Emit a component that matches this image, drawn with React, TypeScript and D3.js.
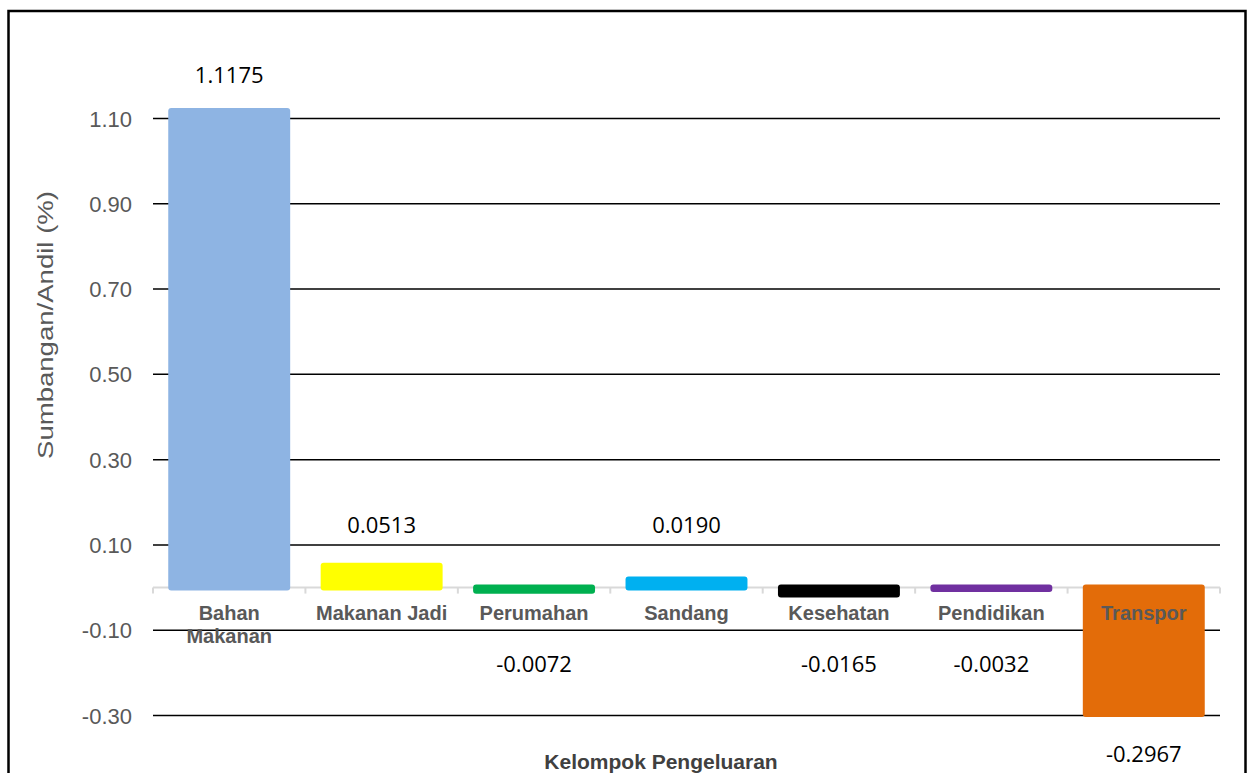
import React from "react";
import * as d3 from "d3";

const categories = ["Bahan Makanan", "Makanan Jadi", "Perumahan", "Sandang", "Kesehatan", "Pendidikan", "Transpor"];
const labelLines = [["Bahan", "Makanan"], ["Makanan Jadi"], ["Perumahan"], ["Sandang"], ["Kesehatan"], ["Pendidikan"], ["Transpor"]];
const values = [1.1175, 0.0513, -0.0072, 0.019, -0.0165, -0.0032, -0.2967];
const valueLabels = ["1.1175", "0.0513", "-0.0072", "0.0190", "-0.0165", "-0.0032", "-0.2967"];
const colors = ["#8EB4E3", "#FFFF00", "#00B050", "#00B0F0", "#000000", "#7030A0", "#E36C09"];
const ticks = [1.1, 0.9, 0.7, 0.5, 0.3, 0.1, -0.1, -0.3];
const tickLabels = ["1.10", "0.90", "0.70", "0.50", "0.30", "0.10", "-0.10", "-0.30"];

const W = 1252;
const H = 773;
const left = 153;
const right = 1220;

export default function App() {
  const y = d3.scaleLinear().domain([-0.3, 1.1]).range([715.5, 118.5]);
  const x = d3.scaleBand<string>().domain(categories).range([left, right]).paddingInner(0.2).paddingOuter(0.1);
  const step = x.step();
  const y0 = y(0);
  const font = "'Liberation Sans', Arial, sans-serif";

  return (
    <svg width={W} height={H} style={{ position: "absolute", left: 0, top: 0, background: "#fff" }}>
      <rect x={8.5} y={11} width={1237} height={H + 10} fill="#fff" stroke="#000" strokeWidth={2.5} />

      {/* gridlines */}
      {ticks.map((t) => (
        <line key={t} x1={left} x2={right} y1={y(t)} y2={y(t)} stroke="#000" strokeWidth={1.5} />
      ))}

      {/* tick labels */}
      {ticks.map((t, i) => (
        <text key={t} x={132} y={y(t) + 8} textAnchor="end" fontFamily={font} fontSize={22} fill="#595959">
          {tickLabels[i]}
        </text>
      ))}

      {/* zero axis */}
      <line x1={left} x2={right} y1={y0} y2={y0} stroke="#D9D9D9" strokeWidth={2} />
      {d3.range(categories.length + 1).map((i) => (
        <line key={i} x1={left + i * step} x2={left + i * step} y1={y0} y2={y0 + 6} stroke="#D9D9D9" strokeWidth={2} />
      ))}

      {/* bars */}
      {categories.map((c, i) => {
        const v = values[i];
        const top = Math.min(y(v), y0) - 3;
        const bot = Math.max(y(v), y0) + 3;
        return <rect key={c} x={x(c)} y={top} width={x.bandwidth()} height={bot - top} rx={3} fill={colors[i]} />;
      })}

      {/* category labels */}
      {categories.map((c, i) => (
        <text key={c} x={(x(c) as number) + x.bandwidth() / 2} y={620} textAnchor="middle" fontFamily={font} fontSize={20} fontWeight="bold" fill="#595959">
          {labelLines[i].map((l, j) => (
            <tspan key={j} x={(x(c) as number) + x.bandwidth() / 2} dy={j === 0 ? 0 : 23}>
              {l}
            </tspan>
          ))}
        </text>
      ))}

      {/* value labels */}
      {categories.map((c, i) => {
        const v = values[i];
        const ly = v >= 0 ? Math.min(y(v) - 28, y(0.1) - 12) : Math.max(y(v) + 48, y(-0.1) + 42);
        return (
          <text key={c} x={(x(c) as number) + x.bandwidth() / 2} y={ly} textAnchor="middle" fontFamily="'Open Sans', sans-serif" fontSize={22} fill="#000">
            {valueLabels[i]}
          </text>
        );
      })}

      {/* axis titles */}
      <text transform="translate(53,325) rotate(-90)" textAnchor="middle" fontFamily={font} fontSize={22} fill="#595959" textLength={268} lengthAdjust="spacingAndGlyphs">
        Sumbangan/Andil (%)
      </text>
      <text x={661} y={769} textAnchor="middle" fontFamily={font} fontSize={21} fontWeight="bold" fill="#404040">
        Kelompok Pengeluaran
      </text>
    </svg>
  );
}
